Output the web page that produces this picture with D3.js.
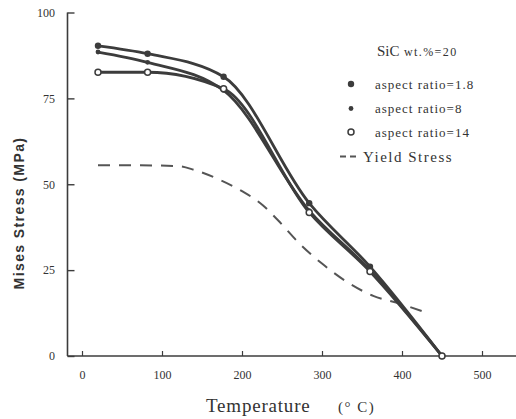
<!DOCTYPE html>
<html>
<head>
<meta charset="utf-8">
<script src="https://cdn.jsdelivr.net/npm/d3@7"></script>
<style>
  html, body { margin: 0; padding: 0; background: #fff; }
  svg { display: block; }
  text { fill: #333; }
</style>
</head>
<body>
<svg id="chart" width="516" height="419"></svg>
<script>
// Temperatures (°C) at which Mises stress was evaluated
const temps = [20, 82, 177, 284, 360, 450];
// Mises stress (MPa) for SiC wt.% = 20 at three whisker aspect ratios
const ratio18 = [90.3, 88.0, 81.3, 44.5, 26.0, 0];
const ratio8  = [88.5, 85.5, 77.3, 42.3, 25.0, 0];
const ratio14 = [82.6, 82.6, 77.8, 41.8, 24.6, 0];

// Matrix yield stress curve
const yieldTemps  = [20, 70, 120, 140, 172, 200, 226, 245, 272, 300, 331, 364, 398, 428];
const yieldStress = [55.5, 55.5, 55.3, 54.2, 51.3, 48.0, 43.9, 39.5, 32.7, 26.9, 21.6, 17.5, 15.2, 12.8];

const xTicks = [0, 100, 200, 300, 400, 500];
const yTicks = [0, 25, 50, 75, 100];

const legendLabels = ["aspect ratio=1.8", "aspect ratio=8", "aspect ratio=14", "Yield  Stress"];

const ink = "#3c3c3c";
const svg = d3.select("#chart");

const x = d3.scaleLinear().domain([0, 500]).range([82, 482]);
const y = d3.scaleLinear().domain([0, 100]).range([356, 12.5]);

const left = 67.5, right = 516;

// Axis frame
svg.append("line").attr("x1", left).attr("x2", left)
  .attr("y1", y(100)).attr("y2", y(0))
  .attr("stroke", ink).attr("stroke-width", 1.6);
svg.append("line").attr("x1", left).attr("x2", right)
  .attr("y1", y(0)).attr("y2", y(0))
  .attr("stroke", ink).attr("stroke-width", 1.6);

// Bottom axis with inward ticks
const xAxis = svg.append("g")
  .attr("transform", `translate(0,${y(0)})`)
  .call(d3.axisBottom(x).tickValues(xTicks).tickSizeInner(-5).tickSizeOuter(0).tickPadding(14));
xAxis.select(".domain").remove();
xAxis.selectAll(".tick line").attr("stroke", ink).attr("stroke-width", 1.2);
xAxis.selectAll(".tick text")
  .attr("font-family", "Liberation Serif, serif").attr("font-size", 12).attr("fill", "#333");

// Left axis with inward ticks
const yAxis = svg.append("g")
  .attr("transform", `translate(${left},0)`)
  .call(d3.axisLeft(y).tickValues(yTicks).tickSizeInner(-7).tickSizeOuter(0).tickPadding(12.5));
yAxis.select(".domain").remove();
yAxis.selectAll(".tick line").attr("stroke", ink).attr("stroke-width", 1.4);
yAxis.selectAll(".tick text")
  .attr("font-family", "Liberation Serif, serif").attr("font-size", 12).attr("fill", "#333");

// Axis titles
svg.append("text")
  .attr("x", 206).attr("y", 412)
  .attr("font-family", "Liberation Serif, serif").attr("font-size", 19)
  .attr("letter-spacing", 0.8)
  .text("Temperature");
svg.append("text")
  .attr("x", 338).attr("y", 412)
  .attr("font-family", "Liberation Serif, serif").attr("font-size", 15)
  .attr("letter-spacing", 1.5)
  .text("(° C)");

svg.append("text")
  .attr("transform", "translate(24,213) rotate(-90)")
  .attr("text-anchor", "middle")
  .attr("font-family", "Liberation Sans, sans-serif").attr("font-weight", "bold")
  .attr("font-size", 14).attr("letter-spacing", 1.4)
  .attr("fill", "#444")
  .text("Mises  Stress  (MPa)");

// Yield stress (dashed)
const yieldLine = d3.line()
  .x(d => x(d[0])).y(d => y(d[1]))
  .curve(d3.curveMonotoneX);
svg.append("path")
  .datum(d3.zip(yieldTemps, yieldStress))
  .attr("d", yieldLine)
  .attr("fill", "none").attr("stroke", "#555")
  .attr("stroke-width", 2).attr("stroke-dasharray", "12,9");

// Stress curves
const series = [
  { values: ratio18, marker: "filled" },
  { values: ratio8,  marker: "small" },
  { values: ratio14, marker: "open" }
];
const stressLine = d3.line()
  .x(d => x(d[0])).y(d => y(d[1]))
  .curve(d3.curveMonotoneX);

series.forEach(s => {
  svg.append("path")
    .datum(d3.zip(temps, s.values))
    .attr("d", stressLine)
    .attr("fill", "none").attr("stroke", ink)
    .attr("stroke-width", 2.8).attr("stroke-linejoin", "round");
});

function drawMarker(sel, kind, cx, cy) {
  if (kind === "filled") {
    sel.append("circle").attr("cx", cx).attr("cy", cy).attr("r", 3.2).attr("fill", ink);
  } else if (kind === "small") {
    sel.append("circle").attr("cx", cx).attr("cy", cy).attr("r", 2.4).attr("fill", ink);
  } else {
    sel.append("circle").attr("cx", cx).attr("cy", cy).attr("r", 3)
      .attr("fill", "#fff").attr("stroke", ink).attr("stroke-width", 1.5);
  }
}

series.forEach(s => {
  const g = svg.append("g");
  temps.forEach((t, i) => drawMarker(g, s.marker, x(t), y(s.values[i])));
});

// Legend
const legend = svg.append("g").attr("font-family", "Liberation Serif, serif");
legend.append("text").attr("x", 377).attr("y", 56).attr("font-size", 15).text("SiC");
legend.append("text").attr("x", 404).attr("y", 56).attr("font-size", 12)
  .attr("letter-spacing", 1.4).text("wt.%=20");

const rowY = [84, 108.5, 132, 156.5];
series.forEach((s, i) => {
  drawMarker(legend, s.marker, 351, rowY[i]);
  legend.append("text").attr("x", 375).attr("y", rowY[i] + 4.5)
    .attr("font-size", 13).attr("letter-spacing", 1.0).text(legendLabels[i]);
});
legend.append("line")
  .attr("x1", 340).attr("x2", 356).attr("y1", rowY[3]).attr("y2", rowY[3])
  .attr("stroke", "#555").attr("stroke-width", 1.8).attr("stroke-dasharray", "6,4");
legend.append("text").attr("x", 363).attr("y", rowY[3] + 5)
  .attr("font-size", 15).attr("letter-spacing", 1.5).text(legendLabels[3]);
</script>
</body>
</html>
